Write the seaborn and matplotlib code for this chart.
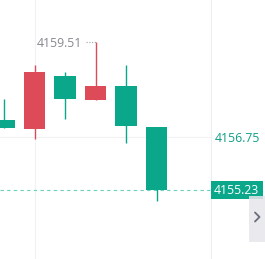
import matplotlib
matplotlib.use("Agg")
import matplotlib.pyplot as plt
import seaborn as sns
import numpy as np
import pandas as pd
from matplotlib.patches import Rectangle
from matplotlib.lines import Line2D

# ---- data ----
opens  = [4157.25, 4156.99, 4158.53, 4157.83, 4158.24, 4157.05]
highs  = [4157.86, 4158.85, 4158.64, 4159.51, 4158.85, 4157.05]
lows   = [4157.02, 4156.71, 4157.28, 4157.83, 4156.59, 4154.91]
closes = [4157.02, 4158.64, 4157.86, 4158.24, 4157.08, 4155.23]
ytick_values = [4156.75]
ytick_labels = ["4156.75"]
high_label = "4159.51"
last_label = "4155.23"

UP = "#DC4B57"     # red = rising
DOWN = "#0AA78A"   # green = falling

df = pd.DataFrame({"o": opens, "h": highs, "l": lows, "c": closes})
df["i"] = np.arange(len(df))
df["color"] = np.where(df["c"] >= df["o"], UP, DOWN)
df["bottom"] = df[["o", "c"]].min(axis=1)
df["height"] = (df["o"] - df["c"]).abs()

sns.set_theme(style="white")
plt.rcParams["font.family"] = ["Open Sans", "DejaVu Sans"]

fig = plt.figure(figsize=(2.65, 2.59), dpi=100)
W, H = 265, 259
ax = fig.add_axes([0, 0, 211 / W, 1])

ppu = 34.58  # pixels per price unit
ax.set_ylim(4159.51 - 217 / ppu, 4159.51 + 42 / ppu)
ax.set_xlim(-4 / 30.5, 207 / 30.5)

FS = 8.8

# grid
ax.axhline(ytick_values[0], color="#F2F2F4", lw=0.8, zorder=0)
ax.axvline(1, color="#F2F2F4", lw=0.8, zorder=0)

# wicks
ax.vlines(df["i"], df["l"], df["h"], colors=df["color"], lw=1.0, zorder=2)
# bodies
ax.bar(df["i"], df["height"], bottom=df["bottom"], width=0.69,
       color=df["color"], zorder=3, linewidth=0)

# last price dashed line
ax.axhline(closes[-1], color="#6ACFBB", lw=0.8, ls=(0, (3, 3)), zorder=1)

# high marker
hi_idx = int(np.argmax(highs))
ax.text(hi_idx - 59 / 30.5, highs[hi_idx] - 1.5 / ppu, high_label, ha="left", va="center",
        fontsize=FS, color="#85898F", zorder=5)
ax.plot([hi_idx - 10 / 30.5, hi_idx], [highs[hi_idx], highs[hi_idx]],
        color="#9A9EA6", lw=0.8, ls=(0, (1, 1.5)), zorder=5)

# axis styling
for s in ["top", "left", "bottom"]:
    ax.spines[s].set_visible(False)
ax.spines["right"].set_color("#EEEEF1")
ax.spines["right"].set_linewidth(0.8)
ax.set_xticks([])
ax.yaxis.tick_right()
ax.set_yticks(ytick_values)
ax.set_yticklabels(ytick_labels)
ax.tick_params(axis="y", length=0, pad=3, labelsize=FS, labelcolor="#0F9F84")

# last price box
tr = ax.get_yaxis_transform()
box_h = 18 / ppu
ax.add_patch(Rectangle((1.0, closes[-1] - box_h / 2), 52 / 211, box_h,
                       transform=tr, color=DOWN, clip_on=False, zorder=6, lw=0))
ax.text(1.0 + 3 / 211, closes[-1], last_label, transform=tr, ha="left", va="center",
        fontsize=FS, color="white", clip_on=False, zorder=7)

# scroll panel with chevron
fig.patches.append(Rectangle((249 / W, 1 - 242 / H), 16 / W, 46 / H,
                             transform=fig.transFigure, color="#E6E6EB", alpha=0.85,
                             zorder=8, lw=0))
fig.lines.append(Line2D([255 / W, 259.5 / W, 255 / W],
                        [1 - 212.5 / H, 1 - 217 / H, 1 - 221.5 / H],
                        transform=fig.transFigure, color="#6B6F7A", lw=1.3, zorder=9))

fig.savefig("out.png", dpi=100)
